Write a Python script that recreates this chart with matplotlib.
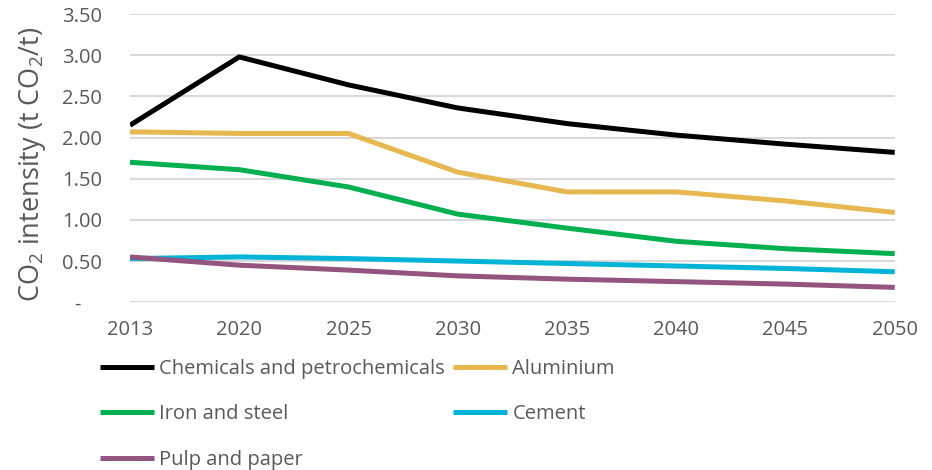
import numpy as np
import matplotlib.pyplot as plt

years = ['2013', '2020', '2025', '2030', '2035', '2040', '2045', '2050']
chemicals = [2.15, 2.98, 2.64, 2.36, 2.17, 2.03, 1.92, 1.82]
aluminium = [2.07, 2.05, 2.05, 1.58, 1.34, 1.34, 1.23, 1.09]
iron_steel = [1.70, 1.61, 1.40, 1.07, 0.90, 0.74, 0.65, 0.59]
cement = [0.53, 0.55, 0.53, 0.50, 0.47, 0.44, 0.41, 0.37]
pulp_paper = [0.55, 0.45, 0.39, 0.32, 0.28, 0.25, 0.22, 0.18]

series = [
    ('Chemicals and petrochemicals', chemicals, '#000000'),
    ('Aluminium', aluminium, '#e8b850'),
    ('Iron and steel', iron_steel, '#00b050'),
    ('Cement', cement, '#00b4d8'),
    ('Pulp and paper', pulp_paper, '#93547f'),
]

plt.rcParams['font.family'] = ['Open Sans', 'DejaVu Sans']
plt.rcParams['mathtext.default'] = 'regular'

fig = plt.figure(figsize=(9.32, 4.70), dpi=100)
ax = fig.add_axes([0.1395, 0.357, 0.8205, 0.613])

x = np.arange(len(years))
lines = []
for name, vals, col in series:
    ln, = ax.plot(x, vals, color=col, lw=3.6, label=name, solid_capstyle='butt')
    lines.append(ln)

ax.set_xlim(0, len(years) - 1)
ax.set_ylim(0, 3.5)
yt = np.arange(0, 3.51, 0.5)
ax.set_yticks(yt)
ax.set_yticklabels(['-    '] + ['%.2f' % v for v in yt[1:]])
ax.set_xticks(x)
ax.set_xticklabels(years)
ax.grid(axis='y', color='#d9d9d9', lw=1.5)
ax.set_axisbelow(True)
for s in ax.spines.values():
    s.set_visible(False)
ax.tick_params(axis='both', length=0, labelsize=14.5, colors='#595959')
ax.tick_params(axis='y', pad=20)
ax.tick_params(axis='x', pad=13)
ax.set_ylabel(r'CO$_2$ intensity (t CO$_2$/t)', fontsize=19.5, color='#595959')
ax.yaxis.set_label_coords(-0.107, 0.48)

# row-wise order for a 2-column legend
order = [0, 2, 4, 1, 3]
leg = fig.legend([lines[i] for i in order], [series[i][0] for i in order],
                 loc='upper left', bbox_to_anchor=(0.107, 0.237), ncol=2,
                 frameon=False, fontsize=14.5, handlelength=2.7,
                 handletextpad=0.25, columnspacing=0.4, labelspacing=1.27,
                 borderaxespad=0, borderpad=0)
for t in leg.get_texts():
    t.set_color('#595959')

fig.savefig('out.png', dpi=100)
